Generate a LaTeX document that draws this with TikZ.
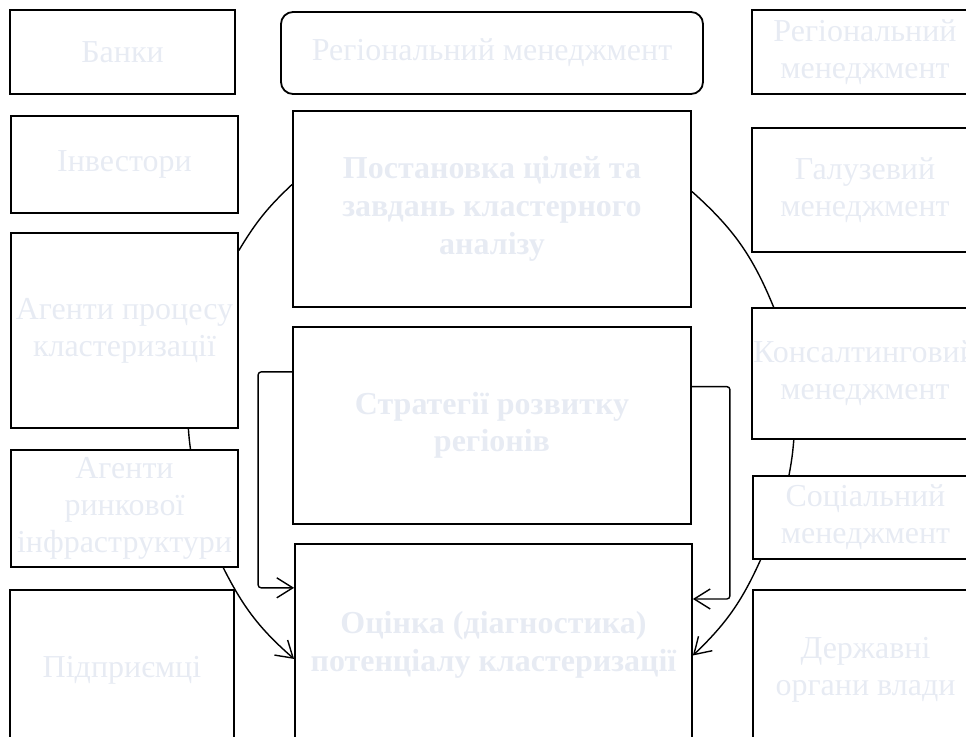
\documentclass[tikz,border=0pt]{standalone}
\usepackage{fontspec}
\setmainfont{Liberation Serif}
\usetikzlibrary{arrows.meta}
\definecolor{paletext}{RGB}{231,235,243}

\begin{document}
\begin{tikzpicture}[x=1pt, y=1pt]
\clip (0,0) rectangle (966,-736);
\begin{scope}[every node/.style={rectangle,draw,line width=1.8pt,inner sep=0pt,align=center,text=paletext,font=\fontsize{32}{37}\selectfont}]
    % left column
    \node (banky) at (122.5,-52) [minimum width=225, minimum height=84] {Банки};
    \node (invest) at (124.5,-164.5) [minimum width=227, minimum height=97] {Інвестори};
    \node (agproc) at (124.5,-330.5) [minimum width=227, minimum height=195] {Агенти процесу\\кластеризації};
    \node (agrynk) at (124.5,-508.5) [minimum width=227, minimum height=117] {Агенти\\ринкової\\інфраструктури};
    \node (pidpr) at (122,-670) [minimum width=224, minimum height=160] {Підприємці};

    % middle column
    \node (regman) at (492,-53) [minimum width=422, minimum height=82, rounded corners=12pt] {Регіональний менеджмент};
    \node (postan) at (492,-209) [minimum width=398, minimum height=196, font=\fontsize{32}{38}\selectfont\bfseries] {Постановка цілей та\\завдань кластерного\\аналізу};
    \node (strat) at (492,-425.5) [minimum width=398, minimum height=197, font=\fontsize{32}{37}\selectfont\bfseries] {Стратегії розвитку\\регіонів};
    \node (otsinka) at (493.5,-645) [minimum width=397, minimum height=202, font=\fontsize{32}{38}\selectfont\bfseries] {Оцінка (діагностика)\\потенціалу кластеризації};

    % right column
    \node (regman2) at (865,-52) [minimum width=226, minimum height=84] {Регіональний\\менеджмент};
    \node (haluz) at (865,-190) [minimum width=226, minimum height=124] {Галузевий\\менеджмент};
    \node (konsalt) at (865,-373.5) [minimum width=226, minimum height=131] {Консалтинговий\\менеджмент};
    \node (sotsial) at (865.5,-517.5) [minimum width=225, minimum height=83] {Соціальний\\менеджмент};
    \node (derzh) at (865.5,-670) [minimum width=225, minimum height=160] {Державні\\органи влади};
\end{scope}

\begin{scope}[>={Straight Barb[length=16pt,width=20pt]}, line width=1.4pt,
              every edge/.style={draw}]
    \path (agproc.35.4) edge [bend left=8] (postan.173.7);
    \path (postan.5.45) edge [bend left=13] (konsalt.144.8);
    \path (konsalt.223.1) edge [bend left=3] (sotsial.151.2);
    \path [->] (sotsial.202) edge [bend left=11] (otsinka.-3.46);
    \path (agproc.-57.3) edge [bend right=2] (agrynk.42.6);
    \path [->] (agrynk.-31.2) edge [bend right=11] (otsinka.184.3);

    \draw [->, rounded corners=3pt] (strat.165.5) -- ++(-34,0) |- (otsinka.164.2);
    \draw [->, rounded corners=3pt] (strat.11.8) -- ++(38,0) |- (otsinka.13);
\end{scope}
\end{tikzpicture}
\end{document}
